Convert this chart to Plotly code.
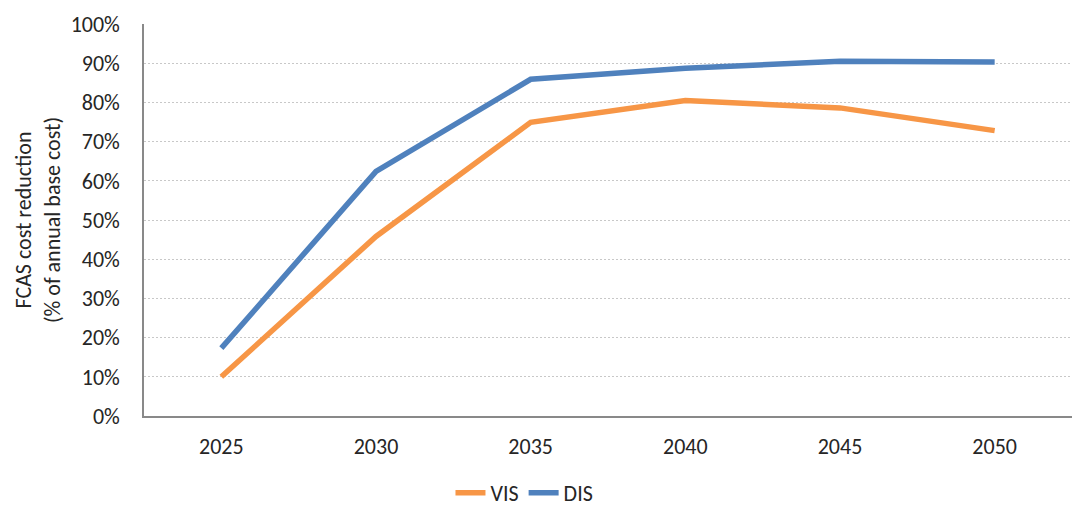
import plotly.graph_objects as go

years = ["2025", "2030", "2035", "2040", "2045", "2050"]
vis = [0.100, 0.458, 0.749, 0.805, 0.786, 0.728]
dis = [0.173, 0.624, 0.859, 0.887, 0.905, 0.903]

y_ticks = [i / 10 for i in range(11)]
y_tick_text = [f"{i * 10}%" for i in range(11)]

FONT = "Carlito, Calibri, Lato, sans-serif"
TEXT = "#262626"
SIZE = 22

fig = go.Figure()
fig.add_trace(go.Scatter(x=years, y=vis, name="VIS", mode="lines",
                         line=dict(color="#F79646", width=5.5)))
fig.add_trace(go.Scatter(x=years, y=dis, name="DIS", mode="lines",
                         line=dict(color="#4F81BD", width=5.5)))

fig.update_layout(
    width=1076, height=510,
    margin=dict(l=144, r=4, t=24, b=94, autoexpand=False),
    paper_bgcolor="white", plot_bgcolor="white",
    font=dict(family=FONT, size=SIZE, color=TEXT),
    showlegend=True,
    legend=dict(orientation="h", x=0.41, xanchor="center", y=-0.196, yanchor="middle",
                font=dict(size=SIZE, color=TEXT), traceorder="normal"),
)
fig.update_xaxes(
    type="category", range=[-0.5, 5.5],
    showline=True, linecolor="#898989", linewidth=1.5,
    showgrid=False, ticks="", ticklabelstandoff=10,
)
fig.update_yaxes(
    range=[0, 1], tickvals=y_ticks, ticktext=y_tick_text,
    showline=True, linecolor="#898989", linewidth=1.5,
    showgrid=True, gridcolor="#C8C8C8", gridwidth=1, griddash="2px,2px",
    zeroline=False, ticks="", ticklabelstandoff=18,
    title=dict(text="FCAS cost reduction<br>(% of annual base cost)",
               font=dict(size=SIZE, color=TEXT), standoff=4),
)

fig.write_html("out.html")
